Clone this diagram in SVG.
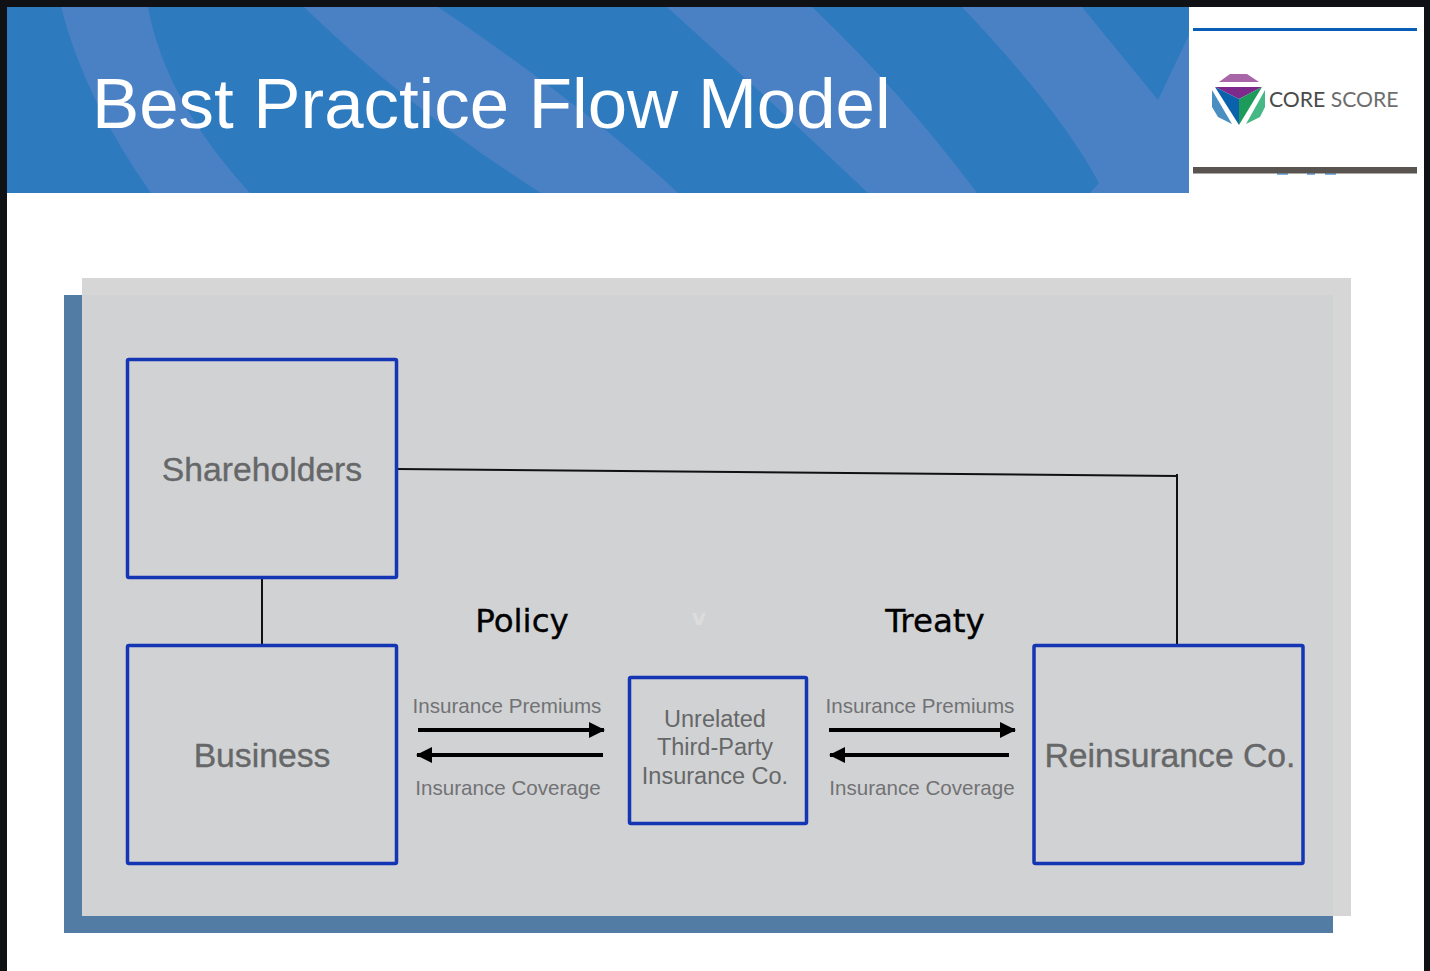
<svg xmlns="http://www.w3.org/2000/svg" width="1430" height="971" viewBox="0 0 1430 971">
<style>
.box{fill:none;stroke:#1436b4;stroke-width:3.500;stroke-linejoin:round}
.lbl{font-family:"Liberation Sans",Arial,sans-serif;fill:#666768;text-anchor:middle}
.big{font-size:33.700px;stroke:#666768;stroke-width:.35px}
.mid{font-size:23.500px}
.small{font-size:20.600px;fill:#717274}
.head{font-family:"DejaVu Sans",sans-serif;font-size:32.500px;fill:#000;text-anchor:middle;stroke:#000;stroke-width:.35px}
.band{fill:#4a81c5}
.arr{stroke:#000;stroke-width:4;fill:none}
.wire{stroke:#111;stroke-width:2;fill:none}
</style>
<defs>
<marker id="ah" viewBox="0 0 16 16" refX="15" refY="8" markerUnits="userSpaceOnUse" markerWidth="16" markerHeight="16" orient="auto-start-reverse"><path d="M0 0L16 8L0 16Z" fill="#000"/></marker>
</defs>
<rect width="1430" height="971" fill="#101114"/>
<rect x="7" y="7" width="1417" height="964" fill="#fff"/>
<g id="banner">
<rect x="7" y="7" width="1182" height="186" fill="#2e7abf"/>
<path class="band" d="M61 7Q85 100 151 193H250Q165 100 148 7Z"/>
<path class="band" d="M304 7Q410 110 541 193H678Q590 110 438 7Z"/>
<path class="band" d="M667 7Q770 100 868 193H977Q900 90 812 7Z"/>
<path class="band" d="M962 7Q1060 110 1099 183L1090 193H1189V35L1158 100L1082 7Z"/>
<text x="92" y="128" font-family="'Liberation Sans',Arial,sans-serif" font-size="70.800" fill="#fff">Best Practice Flow Model</text>
</g>
<g id="logo">
<rect x="1193" y="28" width="224" height="3" fill="#0a5db5"/>
<g fill="#7fb0de"><rect x="1277" y="172" width="11" height="3"/><rect x="1307" y="172" width="8" height="3"/><rect x="1325" y="172" width="11" height="3"/></g>
<rect x="1193" y="167" width="224" height="6.500" fill="#59544f"/>
<path d="M1219 82L1230 74H1247L1259 82Z" fill="#a866a8"/>
<path d="M1215 87H1262L1239 99Z" fill="#7d2a8c"/>
<path d="M1215 87L1239 99V125Z" fill="#0b62ac"/>
<path d="M1262 87L1239 99V125Z" fill="#1d9b5a"/>
<path d="M1212 90L1232 124L1218 117L1212 107Z" fill="#4a8fc2"/>
<path d="M1265 90L1246 124L1260 117L1265 107Z" fill="#45b985"/>
<text x="1269" y="107" font-family="Lato,sans-serif" font-size="21.200" fill="#4a4a4a">CORE <tspan fill="#6e6e6e">SCORE</tspan></text>
</g>
<g id="panel">
<rect x="64" y="295" width="1269" height="638" fill="#527ca4"/>
<rect x="82" y="278" width="1269" height="638" fill="#d6d6d7"/>
<rect x="82" y="295" width="1251" height="621" fill="#d1d2d4"/>
<text x="699" y="625" font-family="'DejaVu Sans',sans-serif" font-size="22" font-weight="bold" fill="#dcdcdd" text-anchor="middle">v</text>
</g>
<g id="connectors">
<path class="wire" d="M397 469L1177 476"/>
<path class="wire" d="M1177 474V645"/>
<path class="wire" d="M262 578V645"/>
<path class="arr" d="M418 730H604" marker-end="url(#ah)"/>
<path class="arr" d="M603 755H417" marker-end="url(#ah)"/>
<path class="arr" d="M829 730H1015" marker-end="url(#ah)"/>
<path class="arr" d="M1009 755H830" marker-end="url(#ah)"/>
</g>
<g id="shareholders"><rect class="box" x="127.500" y="359.500" width="269" height="218" rx="1.500"/><text class="lbl big" x="262" y="481">Shareholders</text></g>
<g id="business"><rect class="box" x="127.500" y="645.500" width="269" height="218" rx="1.500"/><text class="lbl big" x="262" y="767">Business</text></g>
<g id="insurer"><rect class="box" x="629.500" y="677.500" width="177" height="146" rx="1.500"/><text class="lbl mid" x="715" y="727">Unrelated</text><text class="lbl mid" x="715" y="755">Third-Party</text><text class="lbl mid" x="715" y="784">Insurance Co.</text></g>
<g id="reinsurer"><rect class="box" x="1034" y="645.500" width="269" height="218" rx="1.500"/><text class="lbl big" x="1170" y="767">Reinsurance Co.</text></g>
<g id="labels">
<text class="head" x="522" y="632">Policy</text>
<text class="head" x="935" y="632">Treaty</text>
<text class="lbl small" x="507" y="712.500">Insurance Premiums</text>
<text class="lbl small" x="508" y="794.500">Insurance Coverage</text>
<text class="lbl small" x="920" y="712.500">Insurance Premiums</text>
<text class="lbl small" x="922" y="794.500">Insurance Coverage</text>
</g>
</svg>
